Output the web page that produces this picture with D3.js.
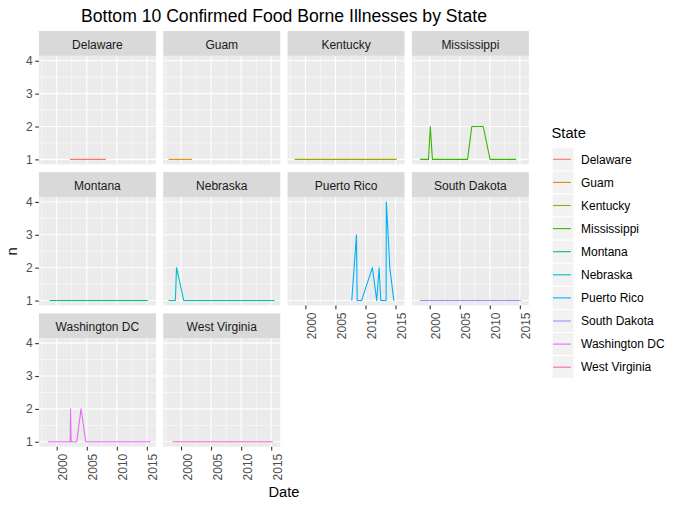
<!DOCTYPE html>
<html>
<head>
<meta charset="utf-8">
<script src="https://cdn.jsdelivr.net/npm/d3@7"></script>
<style>
  html, body { margin: 0; padding: 0; background: #ffffff; }
  svg { display: block; font-family: "Liberation Sans", Arial, sans-serif; }
</style>
</head>
<body>
<svg id="chart" width="683" height="507"></svg>
<script>
// ---------------- DATA ----------------
const states = ["Delaware", "Guam", "Kentucky", "Mississippi", "Montana",
                "Nebraska", "Puerto Rico", "South Dakota", "Washington DC", "West Virginia"];
const stateColors = ["#F8766D", "#D89000", "#A3A500", "#39B600", "#00BF7D",
                     "#00BFC4", "#00B0F6", "#9590FF", "#E76BF3", "#FF62BC"];

// [decimal year, n]
const delaware     = [[2002.2, 1], [2008.2, 1]];
const guam         = [[1997.92, 1], [2001.8, 1]];
const kentucky     = [[1998.2, 1], [2015.2, 1]];
const mississippi  = [[1998.4, 1], [1999.8, 1], [2000.1, 2], [2000.45, 1], [2006.3, 1],
                      [2007.0, 2], [2008.9, 2], [2010.05, 1], [2014.4, 1]];
const montana      = [[1998.8, 1], [2015.2, 1]];
const nebraska     = [[1997.92, 1], [1999.05, 1], [1999.25, 2], [2000.45, 1], [2015.6, 1]];
const puertoRico   = [[2007.72, 1], [2008.5, 3], [2008.62, 1], [2009.35, 1], [2011.15, 2],
                      [2011.88, 1], [2012.27, 2], [2012.55, 1], [2013.43, 1], [2013.47, 4],
                      [2013.77, 3], [2014.05, 2], [2014.72, 1]];
const southDakota  = [[1998.38, 1], [2015.17, 1]];
const washingtonDC = [[1998.55, 1], [2002.25, 1], [2002.3, 2], [2002.4, 1], [2003.33, 1],
                      [2004.05, 2], [2004.83, 1], [2015.62, 1]];
const westVirginia = [[1998.6, 1], [2015.27, 1]];

const seriesList = [delaware, guam, kentucky, mississippi, montana,
                    nebraska, puertoRico, southDakota, washingtonDC, westVirginia];

const xTicks = [2000, 2005, 2010, 2015];
const xMinor = [1997.5, 2002.5, 2007.5, 2012.5];
const yTicks = [1, 2, 3, 4];
const yMinor = [1.5, 2.5, 3.5];

const titleText = "Bottom 10 Confirmed Food Borne Illnesses by State";
const xTitle = "Date";
const yTitle = "n";
const legendTitle = "State";

// ---------------- LAYOUT ----------------
const svg = d3.select("#chart");
const ncol = 4;
const left0 = 38.9, colPitch = 124.33, panelW = 117;
const top0 = 31, rowPitch = 141.2, stripH = 24.8, panelH = 108.5;
const smallFont = 12;

// scales (fixed across facets, ggplot-style 5% expansion)
const allX = seriesList.flat().map(d => d[0]);
const allY = seriesList.flat().map(d => d[1]);
const xExt = d3.extent(allX), yExt = d3.extent(allY);
const xPad = (xExt[1] - xExt[0]) * 0.05, yPad = (yExt[1] - yExt[0]) * 0.05;
const x = d3.scaleLinear().domain([xExt[0] - xPad, xExt[1] + xPad]).range([0, panelW]);
const y = d3.scaleLinear().domain([yExt[0] - yPad, yExt[1] + yPad]).range([panelH, 0]);

const line = d3.line().x(d => x(d[0])).y(d => y(d[1]));

// title
svg.append("text")
  .attr("x", 284).attr("y", 21.5)
  .attr("text-anchor", "middle")
  .attr("font-size", 17.6)
  .attr("fill", "#000")
  .text(titleText);

states.forEach((st, i) => {
  const r = Math.floor(i / ncol), c = i % ncol;
  const px = left0 + c * colPitch;
  const sy = top0 + r * rowPitch;
  const py = sy + stripH;
  const g = svg.append("g").attr("transform", `translate(${px},${py})`);

  // strip
  svg.append("rect").attr("x", px).attr("y", sy).attr("width", panelW).attr("height", stripH)
    .attr("fill", "#D9D9D9");
  svg.append("text").attr("x", px + panelW / 2).attr("y", sy + 17.6)
    .attr("text-anchor", "middle").attr("font-size", smallFont).attr("fill", "#1A1A1A").text(st);

  // panel background
  g.append("rect").attr("width", panelW).attr("height", panelH).attr("fill", "#EBEBEB");

  // minor grid
  g.selectAll(".gxm").data(xMinor).enter().append("line")
    .attr("x1", d => x(d)).attr("x2", d => x(d)).attr("y1", 0).attr("y2", panelH)
    .attr("stroke", "#fff").attr("stroke-width", 0.55);
  g.selectAll(".gym").data(yMinor).enter().append("line")
    .attr("x1", 0).attr("x2", panelW).attr("y1", d => y(d)).attr("y2", d => y(d))
    .attr("stroke", "#fff").attr("stroke-width", 0.55);
  // major grid
  g.selectAll(".gx").data(xTicks).enter().append("line")
    .attr("x1", d => x(d)).attr("x2", d => x(d)).attr("y1", 0).attr("y2", panelH)
    .attr("stroke", "#fff").attr("stroke-width", 1.1);
  g.selectAll(".gy").data(yTicks).enter().append("line")
    .attr("x1", 0).attr("x2", panelW).attr("y1", d => y(d)).attr("y2", d => y(d))
    .attr("stroke", "#fff").attr("stroke-width", 1.1);

  // data line
  g.append("path").datum(seriesList[i])
    .attr("d", line).attr("fill", "none")
    .attr("stroke", stateColors[i]).attr("stroke-width", 1.1)
    .attr("stroke-linejoin", "round");

  // y axis (first column)
  if (c === 0) {
    const ya = g.append("g").call(d3.axisLeft(y).tickValues(yTicks).tickSize(3.7).tickPadding(2.5).tickFormat(d3.format("d")));
    ya.select(".domain").remove();
    ya.selectAll(".tick line").attr("stroke", "#333333").attr("stroke-width", 1.1);
    ya.selectAll(".tick text").attr("fill", "#4D4D4D").attr("font-size", smallFont)
      .attr("font-family", "Liberation Sans, Arial, sans-serif");
  }
  // x axis (bottom of each column)
  if (i + ncol >= states.length) {
    const xa = g.append("g").attr("transform", `translate(0,${panelH})`)
      .call(d3.axisBottom(x).tickValues(xTicks).tickSize(3.7).tickFormat(d3.format("d")));
    xa.select(".domain").remove();
    xa.selectAll(".tick line").attr("stroke", "#333333").attr("stroke-width", 1.1);
    xa.selectAll(".tick text")
      .attr("fill", "#4D4D4D").attr("font-size", smallFont)
      .attr("font-family", "Liberation Sans, Arial, sans-serif")
      .attr("text-anchor", "end")
      .attr("dy", null)
      .attr("x", 0).attr("y", 0)
      .attr("transform", "translate(10,7) rotate(-90)");
  }
});

// axis titles
svg.append("text").attr("x", 283.9).attr("y", 496.5).attr("text-anchor", "middle")
  .attr("font-size", 14.7).attr("fill", "#000").text(xTitle);
svg.append("text").attr("transform", "translate(17,251.5) rotate(-90)")
  .attr("text-anchor", "middle").attr("font-size", 14.7).attr("fill", "#000").text(yTitle);

// legend
const lg = svg.append("g");
lg.append("text").attr("x", 551.5).attr("y", 138.3).attr("font-size", 14.7).attr("fill", "#000")
  .text(legendTitle);
const keyX = 552, keyW = 22, keyPitch = 23.1, keyC0 = 159.3;
states.forEach((st, i) => {
  const cy = keyC0 + i * keyPitch;
  lg.append("rect").attr("x", keyX).attr("y", cy - keyPitch / 2).attr("width", keyW).attr("height", keyPitch)
    .attr("fill", "#F2F2F2").attr("stroke", "#fff").attr("stroke-width", 1);
  lg.append("line").attr("x1", keyX + 1).attr("x2", keyX + keyW - 3).attr("y1", cy).attr("y2", cy)
    .attr("stroke", stateColors[i]).attr("stroke-width", 1.1);
  lg.append("text").attr("x", 581).attr("y", cy + 4.2).attr("font-size", smallFont).attr("fill", "#000")
    .text(st);
});
</script>
</body>
</html>
